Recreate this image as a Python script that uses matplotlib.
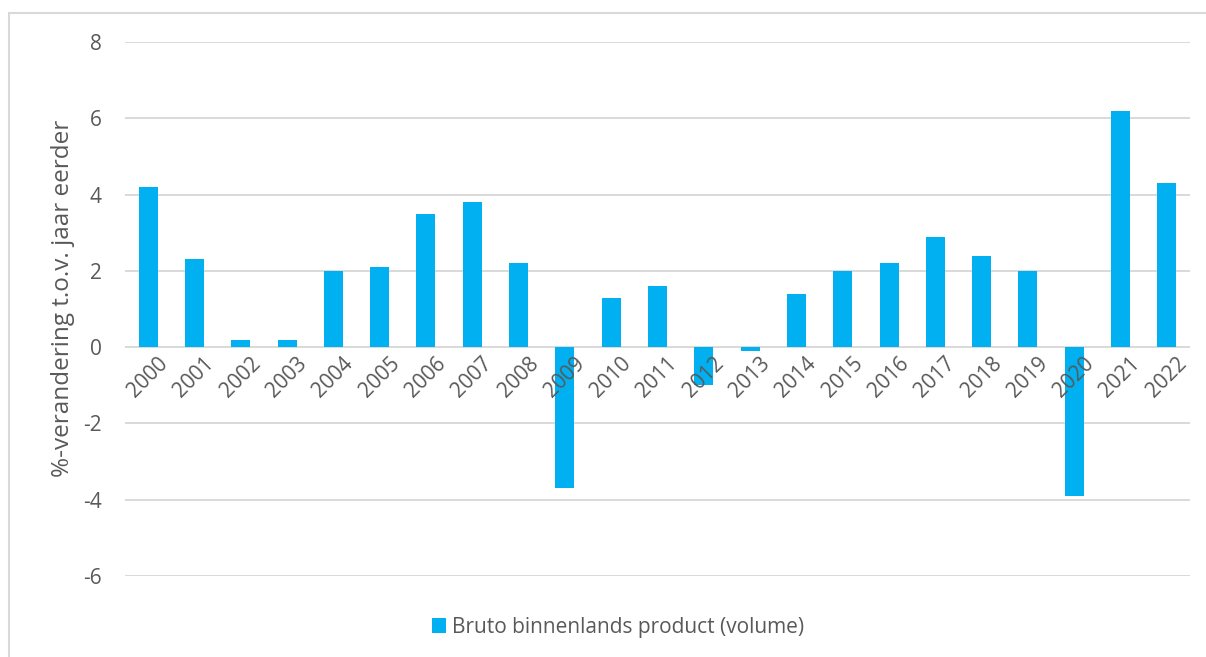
import matplotlib.pyplot as plt
from matplotlib.patches import Rectangle

years = ['2000', '2001', '2002', '2003', '2004', '2005', '2006', '2007',
         '2008', '2009', '2010', '2011', '2012', '2013', '2014', '2015',
         '2016', '2017', '2018', '2019', '2020', '2021', '2022']
bbp_volume = [4.2, 2.3, 0.2, 0.2, 2.0, 2.1, 3.5, 3.8,
              2.2, -3.7, 1.3, 1.6, -1.0, -0.1, 1.4, 2.0,
              2.2, 2.9, 2.4, 2.0, -3.9, 6.2, 4.3]
y_ticks = [-6, -4, -2, 0, 2, 4, 6, 8]

plt.rcParams['font.family'] = ['Open Sans', 'DejaVu Sans']
text_color = '#595959'
bar_color = '#00B0F0'
fs = 15

fig = plt.figure(figsize=(12.06, 6.57), dpi=100)
ax = fig.add_axes([125 / 1206, 1 - 576 / 657, 1065 / 1206, 534 / 657])

x = list(range(len(years)))
ax.bar(x, bbp_volume, width=0.41, color=bar_color, zorder=3,
       label='Bruto binnenlands product (volume)')

ax.set_xlim(-0.5, len(years) - 0.5)
ax.set_ylim(-6, 8)
ax.set_yticks(y_ticks)
ax.set_yticklabels([str(t) for t in y_ticks], fontsize=fs, color=text_color)
ax.tick_params(axis='y', length=0, pad=17)
ax.set_xticks([])
ax.grid(axis='y', color='#D9D9D9', linewidth=1.4, zorder=0)
for side in ['top', 'right', 'left', 'bottom']:
    ax.spines[side].set_visible(False)

# year labels sit on the zero line, rotated like the spreadsheet chart
for i, year in enumerate(years):
    ax.text(i + 0.2, -0.15, year, rotation=45, ha='right', va='top',
            rotation_mode='anchor', fontsize=fs, color=text_color, zorder=4)

ax.set_ylabel('%-verandering t.o.v. jaar eerder', fontsize=17.5,
              color=text_color)
ax.yaxis.set_label_coords(-50 / 1065, 0.52)

fig.legend(loc='center', bbox_to_anchor=(618 / 1206, 1 - 627 / 657),
           frameon=False, fontsize=fs, handlelength=0.7, handleheight=0.7,
           handletextpad=0.3, labelcolor=text_color)

# light chart border
fig.patches.append(Rectangle((9 / 1206, -0.1), 1.2, 1 - 13 / 657 + 0.1,
                             transform=fig.transFigure, fill=False,
                             edgecolor='#D9D9D9', linewidth=1.5))

fig.savefig('out.png', dpi=100)
